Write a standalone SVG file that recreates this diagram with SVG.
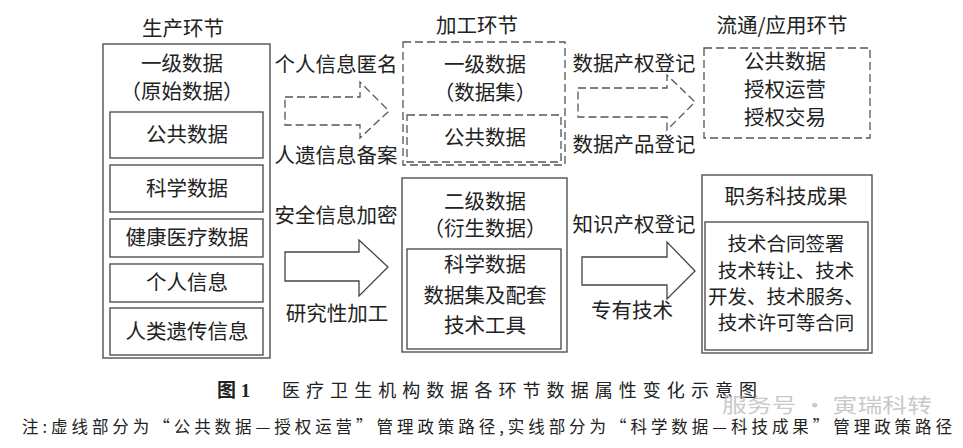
<svg xmlns="http://www.w3.org/2000/svg" width="963" height="448" viewBox="0 0 963 448">
<style>
text{font-family:"Noto Sans CJK SC","Noto Sans",sans-serif;fill:#222;}
.t{font-size:20.5px;text-anchor:middle;}
.s{font-size:19.5px;}
.box{fill:none;stroke:#444;stroke-width:1.3;}
.dbox{fill:none;stroke:#555;stroke-width:1.3;stroke-dasharray:8 4;}
.arrow{fill:#fff;stroke:#444;stroke-width:1.3;}
.darrow{fill:none;stroke:#555;stroke-width:1.3;stroke-dasharray:8 4;}
</style>
<rect width="963" height="448" fill="#fff"/>

<g id="production">
<text class="t" x="183" y="36">生产环节</text>
<rect class="box" x="103" y="44" width="167" height="314"/>
<text class="t" x="182" y="71">一级数据</text>
<text class="t" x="182" y="99">（原始数据）</text>
</g>
<g id="p-public"><rect class="box" x="110" y="112" width="153" height="46"/><text class="t" x="187" y="142">公共数据</text></g>
<g id="p-science"><rect class="box" x="110" y="165" width="153" height="47"/><text class="t" x="187" y="196">科学数据</text></g>
<g id="p-health"><rect class="box" x="110" y="219" width="153" height="38"/><text class="t" x="187" y="245">健康医疗数据</text></g>
<g id="p-personal"><rect class="box" x="110" y="264" width="153" height="38"/><text class="t" x="187" y="290">个人信息</text></g>
<g id="p-genetic"><rect class="box" x="110" y="308" width="153" height="47"/><text class="t" x="187" y="339">人类遗传信息</text></g>

<g id="processing-dashed">
<text class="t" x="477" y="33">加工环节</text>
<rect class="dbox" x="403" y="42" width="162" height="123"/>
<text class="t" x="485" y="72">一级数据</text>
<text class="t" x="485" y="100">（数据集）</text>
<rect class="dbox" x="407" y="115" width="154" height="47"/>
<text class="t" x="485" y="145">公共数据</text>
</g>

<g id="processing-solid">
<rect class="box" x="402" y="178" width="165" height="174"/>
<text class="t" x="485" y="209">二级数据</text>
<text class="t" x="485" y="236">（衍生数据）</text>
<rect class="box" x="407" y="249" width="154" height="100"/>
<text class="t" x="485" y="272">科学数据</text>
<text class="t" x="485" y="303">数据集及配套</text>
<text class="t" x="485" y="333">技术工具</text>
</g>

<g id="circulation-dashed">
<text class="t" x="782" y="33">流通/应用环节</text>
<rect class="dbox" x="704" y="48" width="166" height="90"/>
<text class="t" x="785" y="69">公共数据</text>
<text class="t" x="785" y="97">授权运营</text>
<text class="t" x="785" y="125">授权交易</text>
</g>

<g id="circulation-solid">
<rect class="box" x="702" y="175" width="170" height="178"/>
<text class="t" x="786" y="204">职务科技成果</text>
<rect class="box" x="705" y="222" width="163" height="128"/>
<text class="t s" x="786" y="251">技术合同签署</text>
<text class="t s" x="786" y="278">技术转让、技术</text>
<text class="t s" x="786" y="304">开发、技术服务、</text>
<text class="t s" x="786" y="330">技术许可等合同</text>
</g>

<g id="connectors">
<polygon class="darrow" points="285,97 360,97 360,82 389,111 360,138 360,125 285,125"/>
<polygon class="darrow" points="578,88 667,88 667,75 695,102 667,130 667,117 578,117"/>
<polygon class="arrow" points="285,252 359,252 359,240 388,267 359,296 359,281 285,281"/>
<polygon class="arrow" points="582,257 667,257 667,242 695,271 667,299 667,285 582,285"/>
<text class="t" x="336" y="72">个人信息匿名</text>
<text class="t" x="336" y="163">人遗信息备案</text>
<text class="t" x="336" y="223">安全信息加密</text>
<text class="t" x="337" y="321">研究性加工</text>
<text class="t" x="634" y="71">数据产权登记</text>
<text class="t" x="634" y="152">数据产品登记</text>
<text class="t" x="634" y="232">知识产权登记</text>
<text class="t" x="632" y="318">专有技术</text>
</g>

<g id="caption">
<text x="217" y="397" style="font-family:'Liberation Serif','Noto Sans CJK SC',serif;font-size:19px;font-weight:bold;">图 1</text>
<text x="282" y="397" textLength="475" lengthAdjust="spacing" style="font-size:18px;">医疗卫生机构数据各环节数据属性变化示意图</text>
<text x="22" y="433" textLength="930" lengthAdjust="spacing" style="font-size:16.5px;">注:虚线部分为“公共数据—授权运营”管理政策路径,实线部分为“科学数据—科技成果”管理政策路径</text>
<text x="722" y="413" textLength="210" lengthAdjust="spacingAndGlyphs" style="font-size:20px;fill:#bbb;fill-opacity:0.8;">服务号 · 寅瑞科转</text>
</g>
</svg>
